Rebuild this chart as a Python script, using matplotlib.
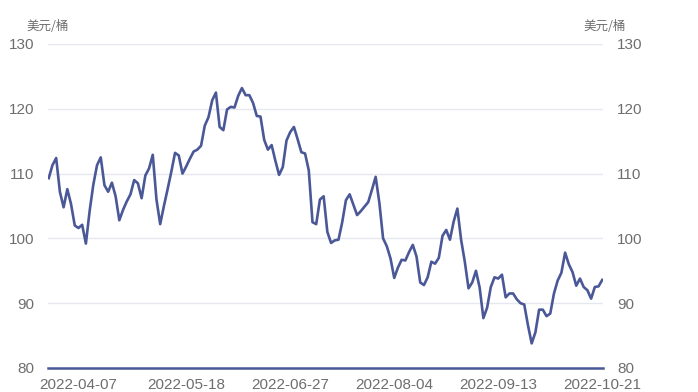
import matplotlib
matplotlib.use("Agg")
import matplotlib.pyplot as plt
import pandas as pd

dates = pd.bdate_range("2022-03-28", "2022-10-21")
prices = [
    109.3, 111.3, 112.4, 107.2, 104.8, 107.6, 105.3, 102.0, 101.6, 102.1,
    99.2, 104.2, 108.3, 111.3, 112.5, 108.2, 107.2, 108.6, 106.5, 102.8,
    104.4, 105.7, 106.8, 109.0, 108.5, 106.2, 109.7, 110.8, 112.9, 106.0,
    102.2, 105.0, 107.6, 110.3, 113.2, 112.8, 110.0, 111.1, 112.3, 113.4,
    113.7, 114.3, 117.4, 118.7, 121.3, 122.5, 117.2, 116.7, 119.9, 120.3,
    120.2, 122.0, 123.2, 122.1, 122.1, 120.9, 118.9, 118.8, 115.2, 113.7,
    114.4, 112.0, 109.8, 111.0, 115.1, 116.4, 117.2, 115.3, 113.3, 113.1,
    110.5, 102.5, 102.2, 106.0, 106.5, 101.0, 99.3, 99.7, 99.8, 102.5,
    105.9, 106.8, 105.2, 103.6, 104.2, 104.9, 105.6, 107.5, 109.5, 105.5,
    100.0, 98.8, 96.9, 93.9, 95.5, 96.7, 96.6, 97.9, 99.0, 97.2,
    93.2, 92.8, 94.0, 96.4, 96.1, 97.0, 100.4, 101.3, 99.8, 102.6,
    104.6, 99.8, 96.4, 92.3, 93.2, 95.0, 92.4, 87.7, 89.3, 92.5,
    94.0, 93.8, 94.4, 90.9, 91.5, 91.5, 90.6, 90.0, 89.8, 86.6,
    83.8, 85.5, 89.0, 89.0, 88.0, 88.4, 91.5, 93.5, 94.7, 97.8,
    96.0, 94.8, 92.7, 93.8, 92.5, 92.0, 90.7, 92.5, 92.6, 93.6,
]
x_labels = ["2022-04-07", "2022-05-18", "2022-06-27", "2022-08-04", "2022-09-13", "2022-10-21"]
y_ticks = [80, 90, 100, 110, 120, 130]
unit = "美元/桶"

line_color = "#4a5897"
grid_color = "#e6e8f0"
text_color = "#6e6e6e"

plt.rcParams["font.family"] = ["Liberation Sans", "Noto Sans CJK SC", "DejaVu Sans"]

fig = plt.figure(figsize=(6.98, 3.92), dpi=100)
ax = fig.add_axes([48 / 698, 1 - 368 / 392, (603 - 48) / 698, (368 - 44) / 392])

idx = list(range(len(prices)))
ax.plot(idx, prices, color=line_color, lw=1.9, solid_joinstyle="round", zorder=3)

ax.set_ylim(80, 130)
ax.set_xlim(-0.2, len(prices) - 1 + 0.2)
ax.set_yticks(y_ticks)
ax.set_yticklabels([str(v) for v in y_ticks])
for v in y_ticks[1:]:
    ax.axhline(v, color=grid_color, lw=1.0, zorder=1)

date_strs = [d.strftime("%Y-%m-%d") for d in dates]
ax.set_xticks([date_strs.index(s) for s in x_labels])
ax.set_xticklabels(x_labels)

for s in ["top", "left", "right"]:
    ax.spines[s].set_visible(False)
ax.spines["bottom"].set_color(line_color)
ax.spines["bottom"].set_linewidth(1.8)
ax.spines["bottom"].set_zorder(4)

ax.tick_params(axis="y", length=0, pad=10, labelsize=11, labelcolor=text_color,
               labelleft=True, labelright=True)
ax.tick_params(axis="x", length=0, pad=7, labelsize=11, labelcolor=text_color)

fig.text(47.5 / 698, 1 - 27 / 392, unit, ha="center", va="center", fontsize=9,
         color=text_color, family=["Noto Sans CJK SC", "DejaVu Sans"])
fig.text(605 / 698, 1 - 27 / 392, unit, ha="center", va="center", fontsize=9,
         color=text_color, family=["Noto Sans CJK SC", "DejaVu Sans"])

fig.savefig("out.png", dpi=100)
